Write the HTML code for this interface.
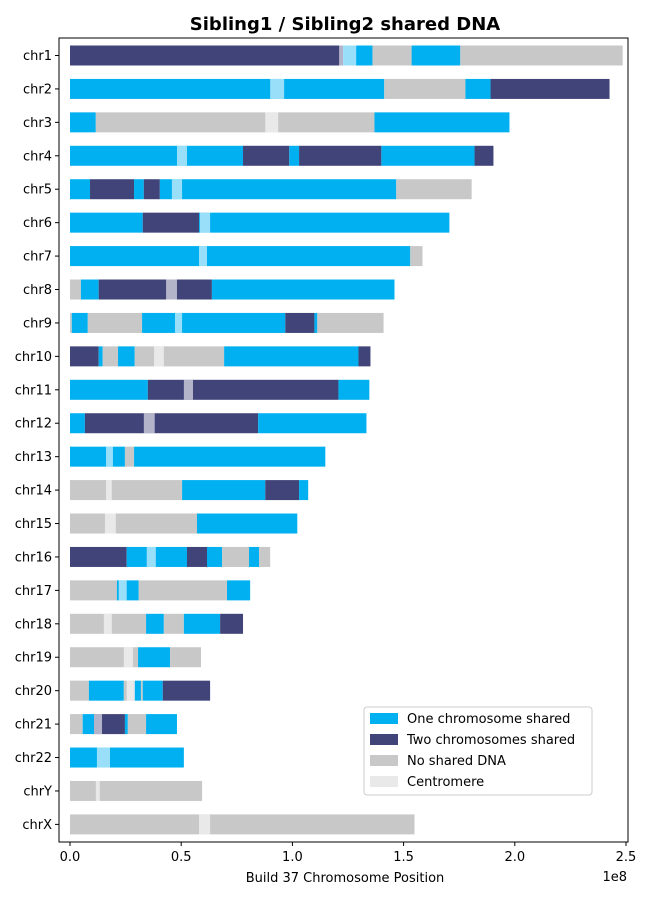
<!DOCTYPE html>
<html><head><meta charset="utf-8"><style>
body{margin:0;background:#fff;font-family:"Liberation Sans","DejaVu Sans",sans-serif}
svg text{font-family:"DejaVu Sans","Liberation Sans",sans-serif}
</style></head><body>
<svg id="chart" width="650" height="900" xmlns="http://www.w3.org/2000/svg">
<rect width="650" height="900" fill="#fff"/>
<text x="345" y="30" text-anchor="middle" font-size="18" font-weight="bold">Sibling1 / Sibling2 shared DNA</text>
<g id="bars"></g>
<rect x="59" y="38" width="569" height="804" fill="none" stroke="#000" stroke-width="1"/>
<g id="axes"></g>
<text x="345" y="882" text-anchor="middle" font-size="13">Build 37 Chromosome Position</text>
<text x="627" y="881" text-anchor="end" font-size="13">1e8</text>
<g>
<rect x="364" y="707" width="228" height="88" rx="3" fill="#fff" fill-opacity="0.8" stroke="#ccc"/>
<rect x="370" y="713" width="28" height="11" fill="#00b0f0"/>
<text x="407" y="723" font-size="13">One chromosome shared</text>
<rect x="370" y="734" width="28" height="11" fill="#414479"/>
<text x="407" y="744" font-size="13">Two chromosomes shared</text>
<rect x="370" y="755" width="28" height="11" fill="#c8c8c8"/>
<text x="407" y="765" font-size="13">No shared DNA</text>
<rect x="370" y="776" width="28" height="11" fill="#e9e9e9"/>
<text x="407" y="786" font-size="13">Centromere</text>
</g>
</svg>
<script>
const chromosomes = ["chr1","chr2","chr3","chr4","chr5","chr6","chr7","chr8","chr9","chr10","chr11","chr12","chr13","chr14","chr15","chr16","chr17","chr18","chr19","chr20","chr21","chr22","chrY","chrX"];
// segments in Mb: [start, end, type]
const segments = [
 [[0,122.8,"two"],[122.8,136,"one"],[136,153.6,"none"],[153.6,175.5,"one"],[175.5,248.5,"none"]],
 [[0,141.3,"one"],[141.3,177.8,"none"],[177.8,189.1,"one"],[189.1,242.6,"two"]],
 [[0,11.6,"one"],[11.6,136.9,"none"],[136.9,197.6,"one"]],
 [[0,77.8,"one"],[77.8,98.6,"two"],[98.6,103,"one"],[103,140,"two"],[140,181.9,"one"],[181.9,190.4,"two"]],
 [[0,9,"one"],[9,28.8,"two"],[28.8,33.2,"one"],[33.2,40.4,"two"],[40.4,146.7,"one"],[146.7,180.6,"none"]],
 [[0,32.7,"one"],[32.7,58,"two"],[58,170.6,"one"]],
 [[0,153,"one"],[153,158.5,"none"]],
 [[0,4.9,"none"],[4.9,12.9,"one"],[12.9,63.8,"two"],[63.8,145.9,"one"]],
 [[0,0.8,"none"],[0.8,8,"one"],[8,32.4,"none"],[32.4,96.8,"one"],[96.8,109.9,"two"],[109.9,111.2,"one"],[111.2,141,"none"]],
 [[0,12.9,"two"],[12.9,14.7,"one"],[14.7,21.6,"none"],[21.6,29.1,"one"],[29.1,69.3,"none"],[69.3,129.7,"one"],[129.7,135.1,"two"]],
 [[0,35,"one"],[35,120.7,"two"],[120.7,134.6,"one"]],
 [[0,6.7,"one"],[6.7,84.6,"two"],[84.6,133.3,"one"]],
 [[0,24.7,"one"],[24.7,28.8,"none"],[28.8,114.8,"one"]],
 [[0,50.4,"none"],[50.4,87.8,"one"],[87.8,103,"two"],[103,107.1,"one"]],
 [[0,57.1,"none"],[57.1,102.2,"one"]],
 [[0,25.5,"two"],[25.5,52.6,"one"],[52.6,61.6,"two"],[61.6,68.4,"one"],[68.4,80.5,"none"],[80.5,85,"one"],[85,90,"none"]],
 [[0,21.1,"none"],[21.1,30.9,"one"],[30.9,70.6,"none"],[70.6,81,"one"]],
 [[0,34.2,"none"],[34.2,42.2,"one"],[42.2,51.2,"none"],[51.2,67.5,"one"],[67.5,77.8,"two"]],
 [[0,30.6,"none"],[30.6,45,"one"],[45,58.9,"none"]],
 [[0,8.5,"none"],[8.5,24.2,"one"],[24.2,29.1,"none"],[29.1,31.9,"one"],[31.9,32.7,"none"],[32.7,41.7,"one"],[41.7,63,"two"]],
 [[0,5.7,"none"],[5.7,10.8,"one"],[10.8,24.7,"two"],[24.7,26,"one"],[26,34.2,"none"],[34.2,48.1,"one"]],
 [[0,51.2,"one"]],
 [[0,59.4,"none"]],
 [[0,154.9,"none"]]
];
const centromeres = [[121,128.7],[90,96.3],[87.8,93.6],[48.1,52.6],[45.8,50.4],[58.4,63],[58,61.6],[43.2,48.1],[47.2,50.4],[37.8,42.2],[51.2,55.3],[33.2,38.1],[16.2,19.3],[16.2,18.8],[15.7,20.6],[34.5,38.6],[21.9,25.5],[15.2,18.8],[24.2,28.3],[25.5,29.1],[10.8,14.4],[12.1,18],[11.6,13.4],[58,63]];
const xTicks = [0,50,100,150,200,250];
const xTickLabels = ["0.0","0.5","1.0","1.5","2.0","2.5"];

const colors = {one:"#00b0f0",two:"#414479",none:"#c8c8c8"};
const NS="http://www.w3.org/2000/svg";
const xScale = v => 70 + v*2.224;
const yScale = i => 55.5 + i*33.43;
const barH = 20;
const bars = document.getElementById('bars');
const axes = document.getElementById('axes');
function mk(tag, attrs, parent){const e=document.createElementNS(NS,tag);for(const k in attrs)e.setAttribute(k,attrs[k]);parent.appendChild(e);return e;}
chromosomes.forEach((c,i)=>{
  const cy=yScale(i);
  segments[i].forEach((s,j)=>{
    const r=mk('rect',{x:xScale(s[0]),y:cy-barH/2,width:Math.max(0,xScale(s[1])-xScale(s[0])),height:barH,fill:colors[s[2]]},bars);
    
    
  });
  const cen=centromeres[i];
  const cr=mk('rect',{x:xScale(cen[0]),y:cy-barH/2,width:xScale(cen[1])-xScale(cen[0]),height:barH,fill:"#fff","fill-opacity":0.6},bars);
  
  
  const t=mk('line',{x1:55,x2:59,y1:cy,y2:cy,stroke:"#000"},axes);
  
  
  const l=mk('text',{x:52,y:cy+4.5,"text-anchor":"end","font-size":13},axes);
  l.textContent=c;
  
  
});
xTicks.forEach((v,k)=>{
  const x=xScale(v);
  const t=mk('line',{x1:x,x2:x,y1:842,y2:846,stroke:"#000"},axes);
  
  
  const l=mk('text',{x:x,y:861,"text-anchor":"middle","font-size":13},axes);
  l.textContent=xTickLabels[k];
  
  
});
</script>
</body></html>
